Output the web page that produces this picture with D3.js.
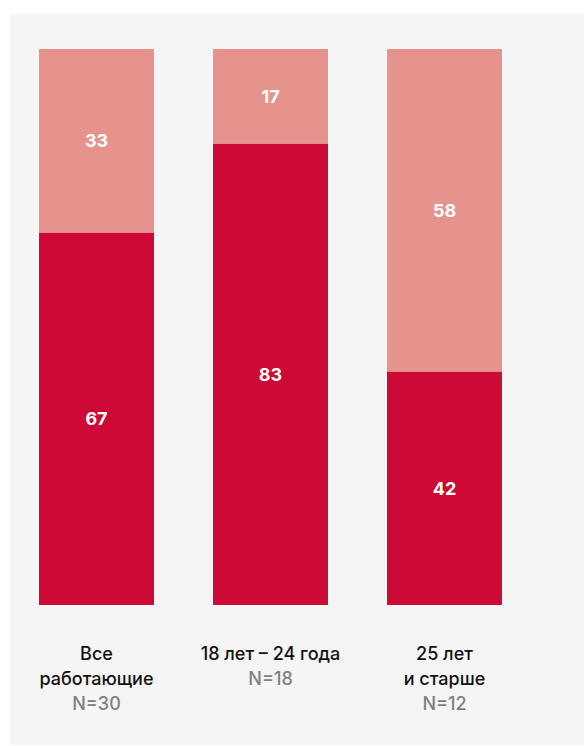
<!DOCTYPE html>
<html><head><meta charset="utf-8">
<script src="https://cdn.jsdelivr.net/npm/d3@7"></script>
<style>html,body{margin:0;padding:0;background:#fff;}svg{display:block;}</style>
</head><body>
<svg id="c" width="584" height="746"></svg>
<script>
const categories = ["all", "18-24", "25+"];
const labelLines = [["Все", "работающие"], ["18 лет – 24 года"], ["25 лет", "и старше"]];
const sampleSizes = ["N=30", "N=18", "N=12"];
const darkValues = [67, 83, 42];
const lightValues = [33, 17, 58];

const colors = {dark: "#CC0A35", light: "#E6938E", bg: "#F5F5F5"};
const svg = d3.select("#c");
svg.append("rect").attr("x", 10).attr("y", 14).attr("width", 574).attr("height", 731).attr("fill", colors.bg);

const x = d3.scaleBand().domain(categories).range([39, 502]).paddingInner(0.339).paddingOuter(0);
const y = d3.scaleLinear().domain([0, 100]).range([605, 49]);

const rows = categories.map((c, i) => ({c, dark: darkValues[i], light: lightValues[i]}));
const stack = d3.stack().keys(["dark", "light"])(rows);

const g = svg.append("g");
stack.forEach(layer => {
  g.selectAll(null).data(layer).enter().append("rect")
    .attr("x", d => x(d.data.c))
    .attr("width", x.bandwidth())
    .attr("y", d => y(d[1]))
    .attr("height", d => y(d[0]) - y(d[1]))
    .attr("fill", layer.key === "dark" ? colors.dark : colors.light);
  g.selectAll(null).data(layer).enter().append("text")
    .attr("x", d => x(d.data.c) + x.bandwidth() / 2)
    .attr("y", d => (y(d[0]) + y(d[1])) / 2)
    .attr("dy", "0.35em")
    .attr("text-anchor", "middle")
    .attr("fill", "#fff")
    .attr("font-family", "Inter, 'Liberation Sans', sans-serif")
    .attr("font-weight", 700)
    .attr("font-size", 18)
    .text(d => d.data[layer.key]);
});

categories.forEach((c, i) => {
  const cx = x(c) + x.bandwidth() / 2;
  const lines = labelLines[i];
  const t = svg.append("text").attr("text-anchor", "middle")
    .attr("font-family", "Inter, 'Liberation Sans', sans-serif")
    .attr("font-size", 18).attr("font-weight", 500);
  lines.forEach((l, j) => {
    t.append("tspan").attr("x", cx).attr("y", 660 + j * 25).attr("fill", "#111").text(l);
  });
  t.append("tspan").attr("x", cx).attr("y", 660 + lines.length * 25).attr("fill", "#808080").text(sampleSizes[i]);
});
</script>
</body></html>
